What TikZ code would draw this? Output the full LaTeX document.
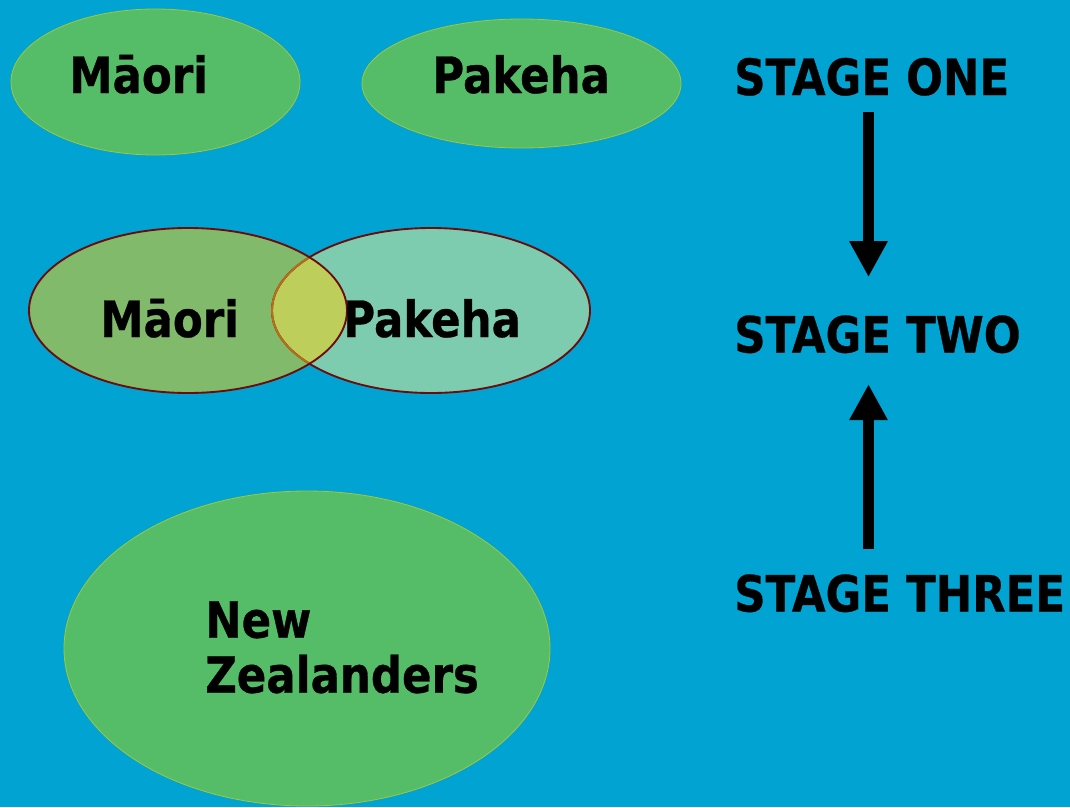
\documentclass[tikz,border=0pt]{standalone}
\usepackage{fontspec}
\newfontfamily\blobfont[FakeStretch=0.87,BoldFeatures={FakeBold=0.6}]{DejaVu Sans}
\usetikzlibrary{arrows.meta}
\definecolor{seablue}{RGB}{0,163,209}
\definecolor{blobgreen}{RGB}{85,189,104}
\definecolor{blobedge}{RGB}{160,200,60}
\definecolor{maorigreen}{RGB}{128,186,106}
\definecolor{pakehamint}{RGB}{125,204,176}
\definecolor{mixyellow}{RGB}{190,206,90}
\definecolor{vennedge}{RGB}{110,10,10}
\definecolor{mixedge}{RGB}{185,110,25}
\tikzset{
	blob/.style = {
		fill=blobgreen,
		draw=blobedge,
		line width=0.6pt
	},
	vennline/.style = {
		draw=vennedge,
		line width=1.4pt
	},
	word/.style = {
		anchor=base west,
		inner sep=0pt,
		align=left,
		font=\blobfont\bfseries\fontsize{37.5}{41.25}\selectfont
	},
	stagearrow/.style = {
		line width=8.25pt,
		-{Triangle[length=27pt,width=27pt]}
	}
}
\begin{document}
\begin{tikzpicture}[x=0.75pt,y=0.75pt]
\fill[seablue] (0,0) rectangle (1070,-807);
\useasboundingbox (0,0) rectangle (1070,-807);
% stage one
\fill[blob] (155.5,-82) ellipse [x radius=144.5,y radius=73];
\fill[blob] (521.5,-83.5) ellipse [x radius=159.5,y radius=64.5];
\node[word] (maori1) at (69,-93) {Māori};
\node[word] (pakeha1) at (432,-93) {Pakeha};
% stage two
\fill[pakehamint] (431,-310.5) ellipse [x radius=159,y radius=82.5];
\fill[maorigreen] (188,-310.5) ellipse [x radius=159,y radius=82.5];
\begin{scope}
	\clip (188,-310.5) ellipse [x radius=159,y radius=82.5];
	\fill[mixyellow] (431,-310.5) ellipse [x radius=159,y radius=82.5];
\end{scope}
\draw[vennline] (431,-310.5) ellipse [x radius=159,y radius=82.5];
\begin{scope}
	\clip (188,-310.5) ellipse [x radius=159,y radius=82.5];
	\draw[vennline,draw=mixedge] (431,-310.5) ellipse [x radius=159,y radius=82.5];
\end{scope}
\draw[vennline] (188,-310.5) ellipse [x radius=159,y radius=82.5];
\node[word] (maori2) at (100,-337) {Māori};
\node[word] (pakeha2) at (343,-337) {Pakeha};
% stage three
\fill[blob] (307,-648.5) ellipse [x radius=243,y radius=157.5];
\node[word,anchor=north west] (nz) at (205,-601) {New\\Zealanders};
% stages
\node[word] (one) at (734,-95) {STAGE ONE};
\node[word] (two) at (734,-352.5) {STAGE TWO};
\node[word] (three) at (734,-611.5) {STAGE THREE};
\coordinate (axis) at (868.5,0);
\draw[stagearrow,shorten <=12pt,shorten >=28.5pt] (one.south -| axis) -- (two.north -| axis);
\draw[stagearrow,shorten <=18.5pt,shorten >=23pt] (three.north -| axis) -- (two.south -| axis);
\end{tikzpicture}
\end{document}
